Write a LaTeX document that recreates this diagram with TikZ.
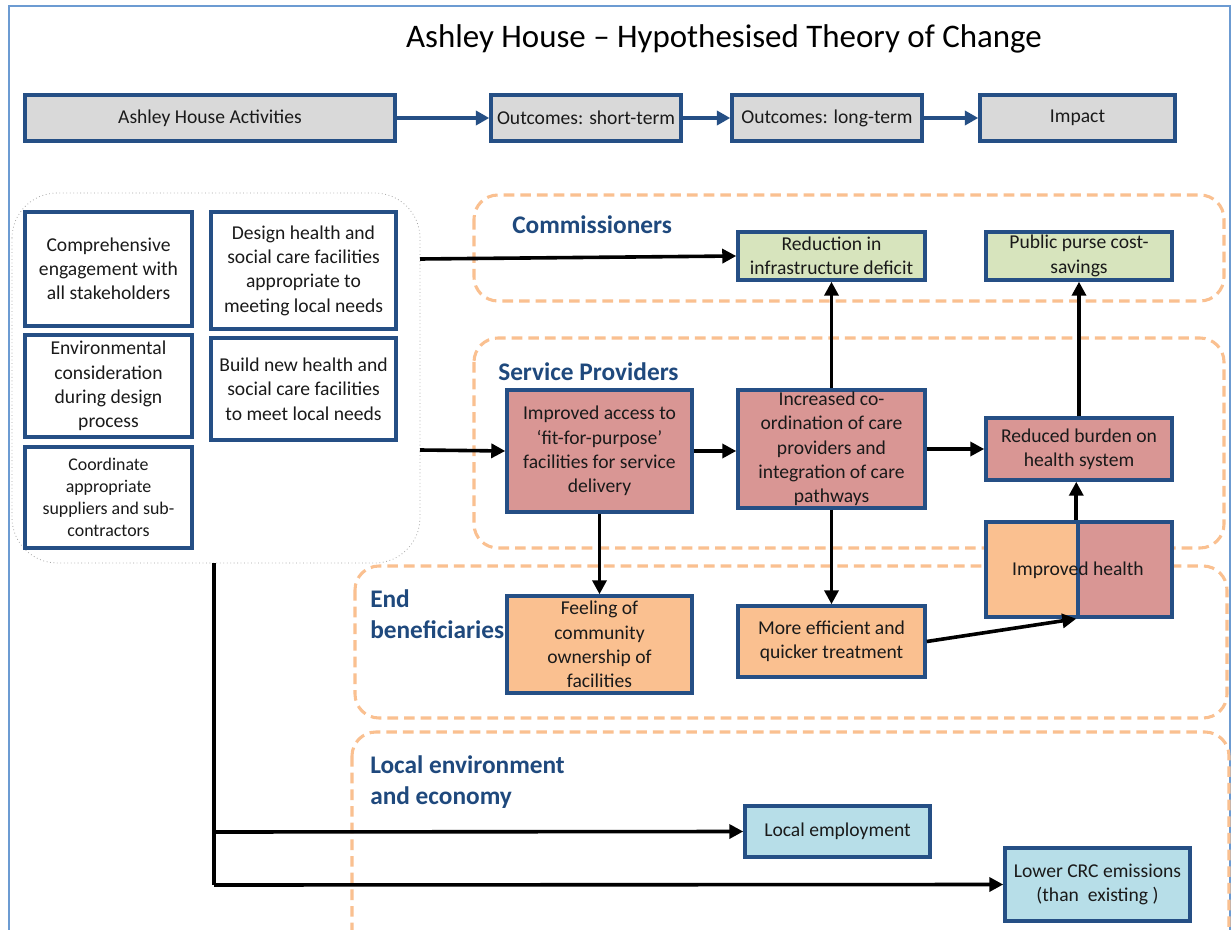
\documentclass[tikz,border=0pt]{standalone}
\usepackage{fontspec}
\setmainfont{Carlito}
\usetikzlibrary{arrows.meta}
\definecolor{bord}{HTML}{254F85}
\definecolor{lblue}{HTML}{1F497D}
\definecolor{frameblue}{HTML}{6C9BD2}
\definecolor{greyfill}{HTML}{D9D9D9}
\definecolor{greenfill}{HTML}{D7E4BD}
\definecolor{redfill}{HTML}{D99694}
\definecolor{orfill}{HTML}{FAC090}
\definecolor{bluefill}{HTML}{B7DEE8}
\definecolor{dashor}{HTML}{FAC090}
\definecolor{grpgray}{HTML}{A6A6A6}
\definecolor{txt}{HTML}{1A1A1A}
\newcommand\mybody{\fontsize{14.7}{18.2}\selectfont}
\newcommand\mysmall{\fontsize{13.4}{16.5}\selectfont}
\tikzset{
  box/.style={draw=bord, line width=2.6pt, inner sep=0pt, align=center, font=\mybody, text=txt},
  sz/.style 2 args={minimum width=#1*0.75pt, minimum height=#2*0.75pt},
  region/.style={draw=dashor, line width=2.3pt, dash pattern=on 8pt off 4.5pt, rounded corners=18pt},
  grp/.style={draw=grpgray, line width=0.6pt, dotted, rounded corners=34pt},
  arr/.style={draw=black, line width=2.7pt, -{Triangle[length=10.5pt,width=10.5pt]}},
  tarr/.style={draw=bord, line width=3.2pt, -{Triangle[length=10pt,width=10.5pt]}},
  lab/.style={font=\fontsize{19}{23}\selectfont\bfseries, text=lblue, align=left, inner sep=0pt, anchor=west},
}
\begin{document}
\begin{tikzpicture}[x=0.75pt,y=-0.75pt]
\useasboundingbox (0,0) rectangle (1231,930);
\clip (0,0) rectangle (1231,930);
\fill[white] (0,0) rectangle (1231,930);
% outer frame
\draw[frameblue, line width=1.3pt] (9,6) rectangle (1230,960);
% title
\node[font=\fontsize{24.7}{29}\selectfont, text=black] (title) at (724,39) {Ashley House – Hypothesised Theory of Change};
% top row
\node[box, fill=greyfill, sz={370}{46}] (act) at (210,118) {Ashley House Activities};
\node[box, fill=greyfill, sz={190}{46}] (st) at (586,118) {Outcomes: short-term};
\node[box, fill=greyfill, sz={190}{46}] (lt) at (827,118) {Outcomes: long-term};
\node[box, fill=greyfill, sz={195}{46}] (imp) at (1077.5,118) {Impact};
\draw[tarr] (act.east) -- (st.west);
\draw[tarr] (st.east) -- (lt.west);
\draw[tarr] (lt.east) -- (imp.west);
% dashed regions
\draw[region] (474,195) rectangle (1224,301);
\draw[region] (474,338) rectangle (1224,548);
\draw[region] (355,566) rectangle (1227,718);
\draw[region] (352,732) rectangle (1229,980);
% region labels
\node[lab] (lcomm) at (512,225) {Commissioners};
\node[lab] (lsp) at (498,372) {Service Providers};
\node[lab] (leb) at (370,614.5) {End\\beneficiaries};
\node[lab] (lle) at (370,782) {Local environment\\and economy};
% activities group
\draw[grp] (12,193) rectangle (420,563);
\node[box, fill=white, sz={167}{114}] (comp) at (108.5,269) {Comprehensive\\engagement with\\all stakeholders};
\node[box, fill=white, sz={167}{102}] (env) at (108.5,386) {Environmental\\consideration\\during design\\process};
\node[box, fill=white, sz={167}{101}, font=\mysmall] (coord) at (108.5,497.5) {Coordinate\\appropriate\\suppliers and sub-\\contractors};
\node[box, fill=white, sz={185}{117}] (design) at (303.5,270.5) {Design health and\\social care facilities\\appropriate to\\meeting local needs};
\node[box, fill=white, sz={185}{102}] (build) at (303.5,389) {Build new health and\\social care facilities\\to meet local needs};
\coordinate (o1) at (420,259);
\coordinate (o2) at (420,450);
\coordinate (o3) at (214,563);
\coordinate (j1) at (214,832);
\coordinate (j2) at (214,885);
% outcome boxes
\node[box, fill=greenfill, sz={187}{48}] (red) at (831.5,256) {Reduction in\\infrastructure deficit};
\node[box, fill=greenfill, sz={186}{48}] (pub) at (1079,256) {Public purse cost-\\savings};
\node[box, fill=redfill, sz={185}{122}] (acc) at (599.5,451) {Improved access to\\‘fit-for-purpose’\\facilities for service\\delivery};
\node[box, fill=redfill, sz={187}{118}] (coor) at (831.5,449) {Increased co-\\ordination of care\\providers and\\integration of care\\pathways};
\node[box, fill=redfill, sz={186}{62}] (burden) at (1079,449) {Reduced burden on\\health system};
\node[box, fill=orfill, sz={92}{95}] (healthL) at (1032,569.5) {};
\node[box, fill=redfill, sz={94}{95}] (healthR) at (1125,569.5) {};
\node[font=\mybody, text=txt, inner sep=0pt] (health) at (1078,570) {Improved health};
\node[box, fill=orfill, sz={185}{97}] (feel) at (599.5,644.5) {Feeling of\\community\\ownership of\\facilities};
\node[box, fill=orfill, sz={187}{71}] (eff) at (831.5,641.5) {More efficient and\\quicker treatment};
\node[box, fill=bluefill, sz={185}{51}] (emp) at (837.5,831.5) {Local employment};
\node[box, fill=bluefill, sz={185}{73}] (crc) at (1097.5,884.5) {Lower CRC emissions\\(than~ existing~)};
% connectors
\draw[arr] (o1) -- (red.west);
\draw[arr] (o2) -- (acc.west);
\draw[line width=2.7pt] (o3) -- (j2);
\draw[arr] (j1) -- (emp.west);
\draw[arr] (j2) -- (crc.west);
\draw[arr] (acc.east) -- (acc.east -| coor.west);
\draw[arr] (coor.east) -- (coor.east -| burden.west);
\draw[arr] (coor.north) -- (red.south);
\draw[arr] (burden.north) -- (pub.south);
\draw[arr] (acc.south) -- (feel.north);
\draw[arr] (coor.south) -- (eff.north);
\draw[arr] (healthR.north west) -- (healthR.north west |- burden.south);
\draw[arr] (eff.east) -- (healthR.south west);
\end{tikzpicture}
\end{document}
